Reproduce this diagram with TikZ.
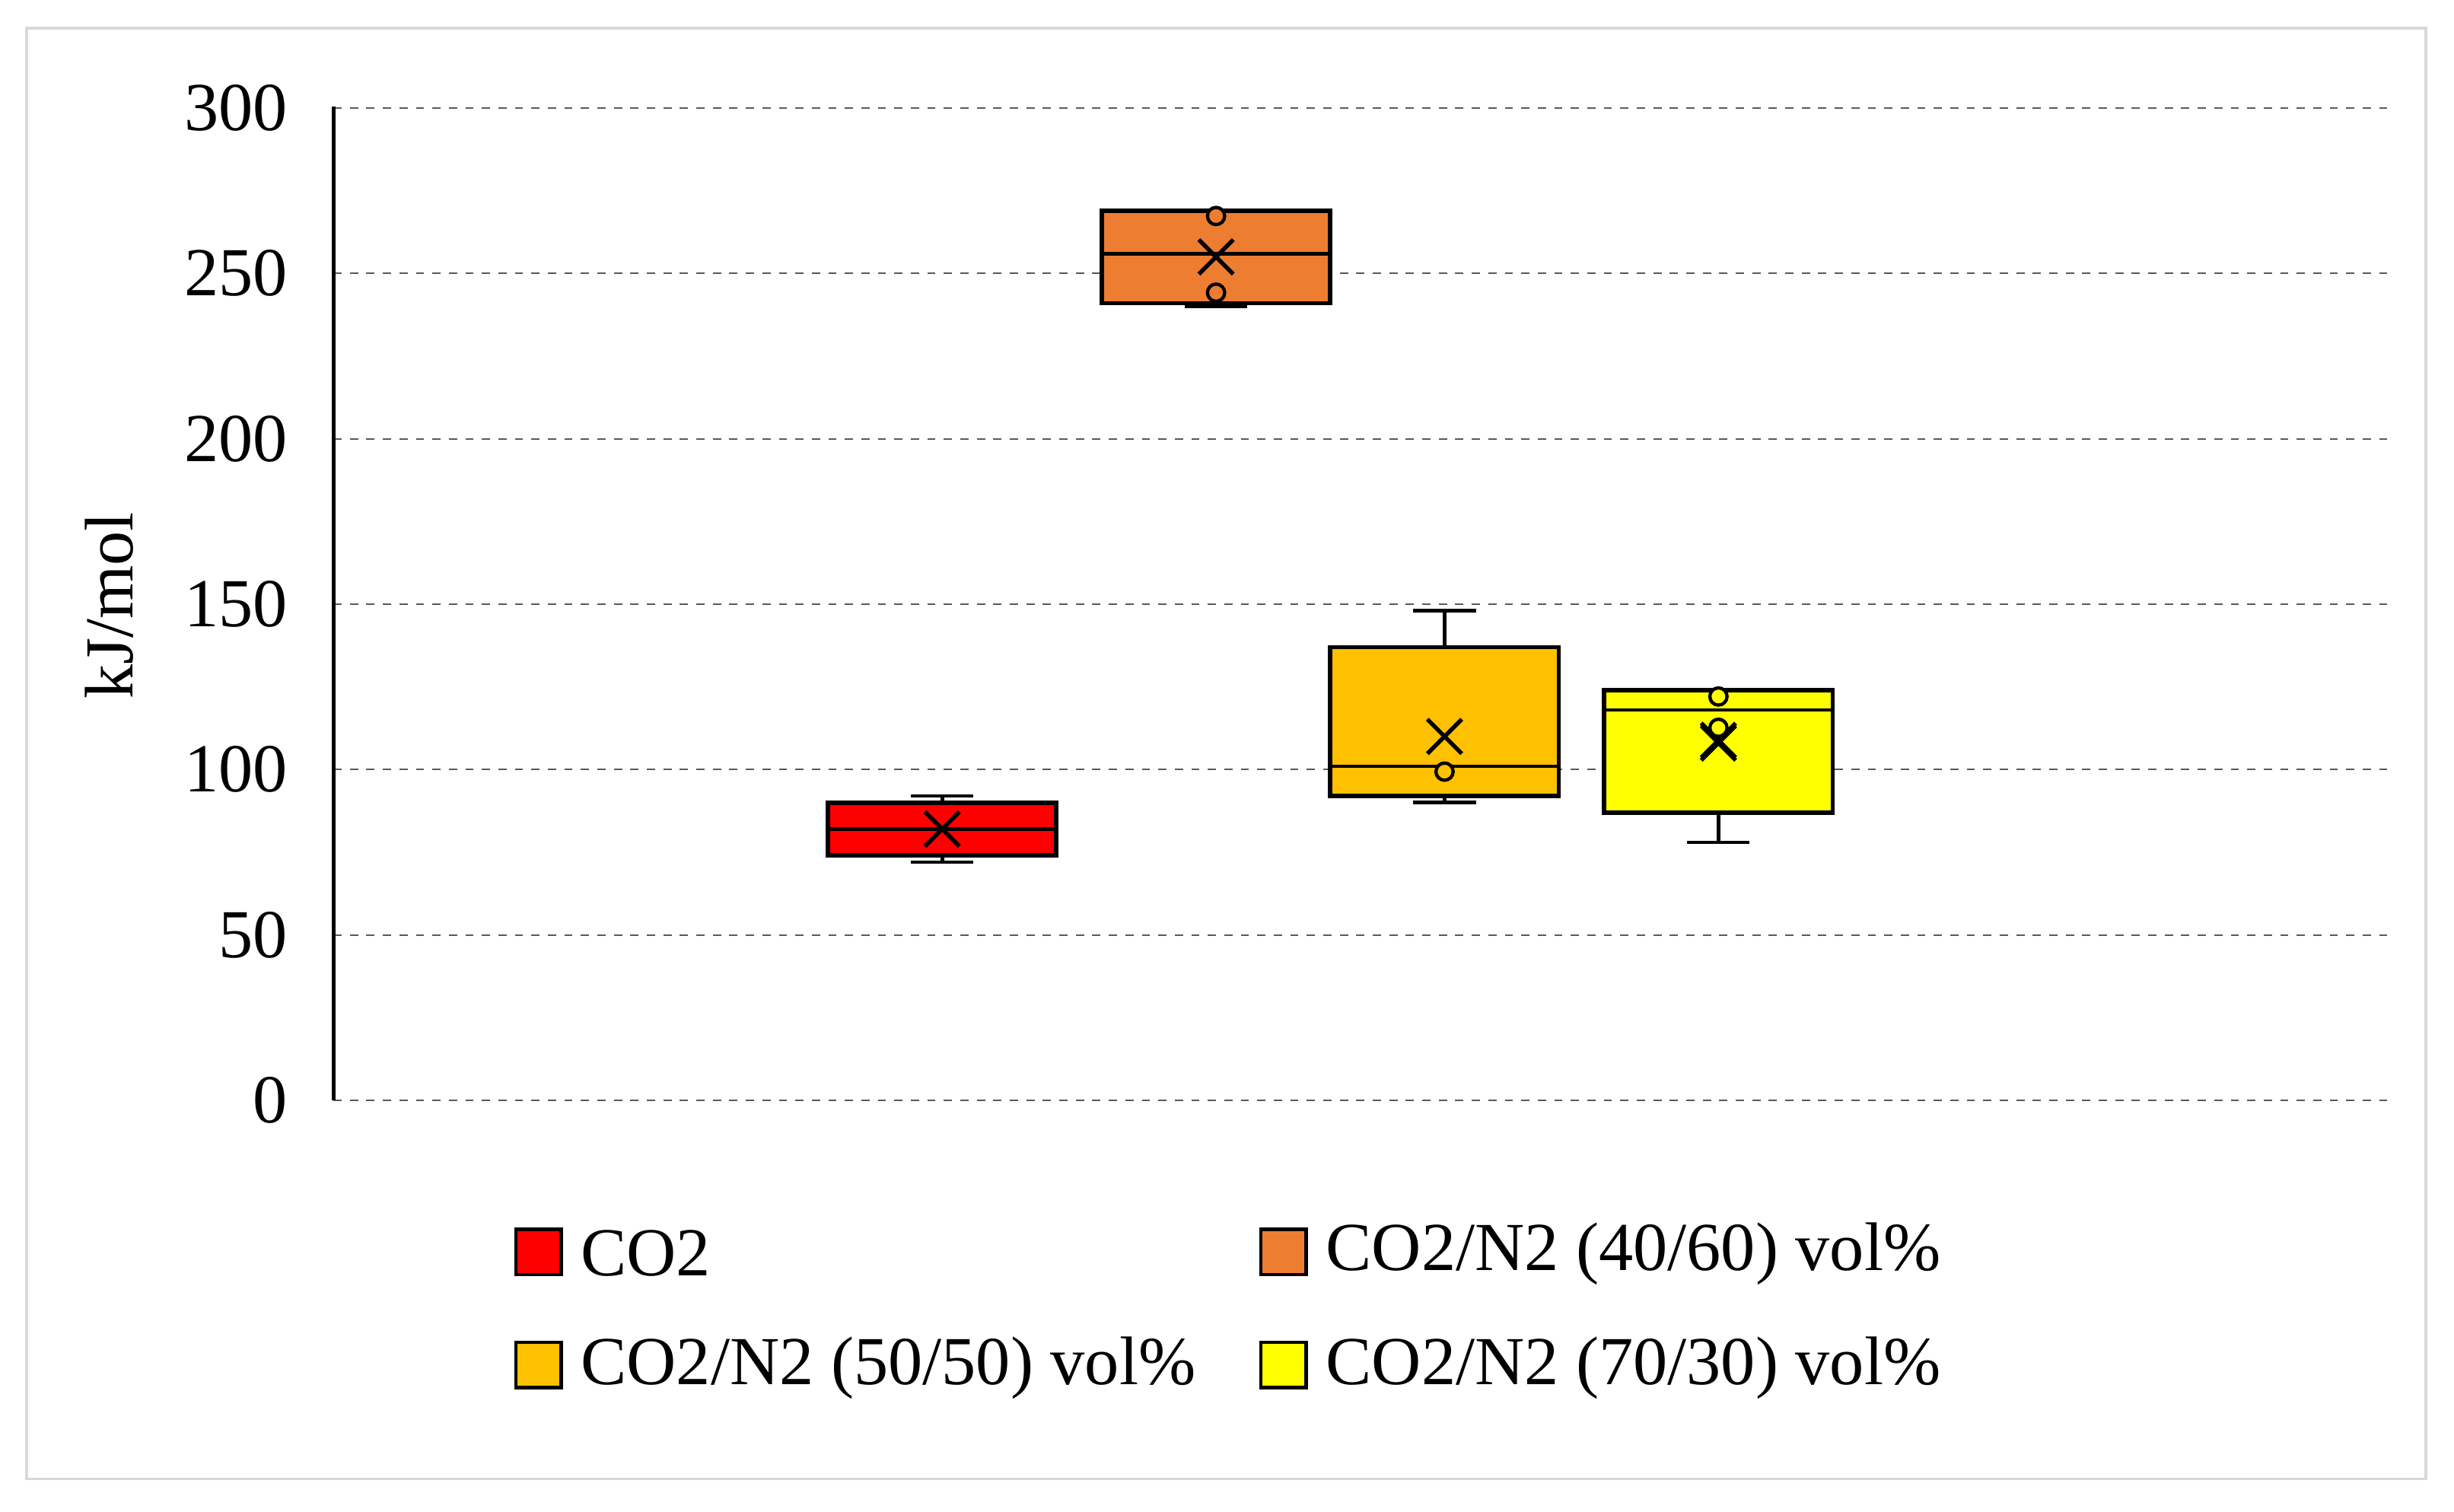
\documentclass[tikz,border=0pt]{standalone}
\usepackage{fontspec}
\setmainfont{Liberation Serif}
\definecolor{cred}{HTML}{FF0000}
\definecolor{corange}{HTML}{ED7D31}
\definecolor{cgold}{HTML}{FFC000}
\definecolor{cyellow}{HTML}{FFFF00}
\begin{document}
\begin{tikzpicture}[x=0.02cm,y=-0.02cm,
  tick/.style={anchor=east,font=\fontsize{25}{30}\selectfont},
  leg/.style={anchor=west,font=\fontsize{25}{30}\selectfont},
  sq/.style={draw=black,line width=1.2pt,minimum size=0.58cm,inner sep=0pt},
  grid/.style={dashed,gray!70!black,line width=0.6pt},
  bx/.style={draw=black,line width=1.6pt},
  wh/.style={black,line width=1.3pt},
  outlier/.style={draw=black,line width=1.2pt,circle,inner sep=0pt,minimum size=0.22cm}]
\useasboundingbox (0,0) rectangle (1568,965.6);
\draw[gray!30,line width=1pt] (17,18) rectangle (1550,945);
% grid and ticks
\foreach \v in {0,50,...,300}{
  \pgfmathsetmacro\yy{703-\v*2.1133}
  \draw[grid] (213,\yy) -- (1525,\yy);
  \node[tick] at (190,\yy) {\v};
}
\draw[black,line width=1.4pt] (213,68) -- (213,703);
\node[rotate=90,font=\fontsize{25}{30}\selectfont] at (70,387) {kJ/mol};
\newcommand\mybox[9]{%
  \pgfmathsetmacro\ya{703-#3*2.1133}\pgfmathsetmacro\yb{703-#4*2.1133}%
  \pgfmathsetmacro\yc{703-#5*2.1133}\pgfmathsetmacro\yd{703-#6*2.1133}%
  \pgfmathsetmacro\ye{703-#7*2.1133}\pgfmathsetmacro\yf{703-#8*2.1133}%
  \draw[wh] (#1,\ya) -- (#1,\yb) (#1-20,\ya) -- (#1+20,\ya);
  \draw[wh] (#1,\ye) -- (#1,\yd) (#1-20,\ye) -- (#1+20,\ye);
  \filldraw[bx,fill=#9] (#1-#2,\yb) rectangle (#1+#2,\yd);
  \draw[wh] (#1-#2,\yc) -- (#1+#2,\yc);
  \draw[line width=1.5pt] (#1-11,\yf-11) -- (#1+11,\yf+11) (#1-11,\yf+11) -- (#1+11,\yf-11);
}
\mybox{602}{73}{72}{74}{82}{90}{92}{82}{cred}
\mybox{777}{73}{240}{241}{256}{269}{269}{255}{corange}
\mybox{923}{73}{90}{92}{101}{137}{148}{110}{cgold}
\mybox{1098}{73}{78}{87}{118}{124}{124}{108}{cyellow}
\node[outlier,fill=corange] (o1) at (777,138) {};
\node[outlier,fill=corange] (o2) at (777,187) {};
\node[outlier,fill=cgold] (o3) at (923,493) {};
\node[outlier,fill=cyellow] (o4) at (1098,445) {};
\node[outlier,fill=cyellow] (o5) at (1098,465) {};
\draw[line width=1.5pt] (1087,462) -- (1109,484) (1087,484) -- (1109,462);
% legend
\node[sq,fill=cred] (s1) at (344,800) {};
\node[leg] (t1) at (365,801) {CO2};
\node[sq,fill=corange] (s2) at (820,800) {};
\node[leg] (t2) at (841,801) {CO2/N2 (40/60) vol\%};
\node[sq,fill=cgold] (s3) at (344,872) {};
\node[leg] (t3) at (365,874) {CO2/N2 (50/50) vol\%};
\node[sq,fill=cyellow] (s4) at (820,872) {};
\node[leg] (t4) at (841,874) {CO2/N2 (70/30) vol\%};
\end{tikzpicture}
\end{document}
